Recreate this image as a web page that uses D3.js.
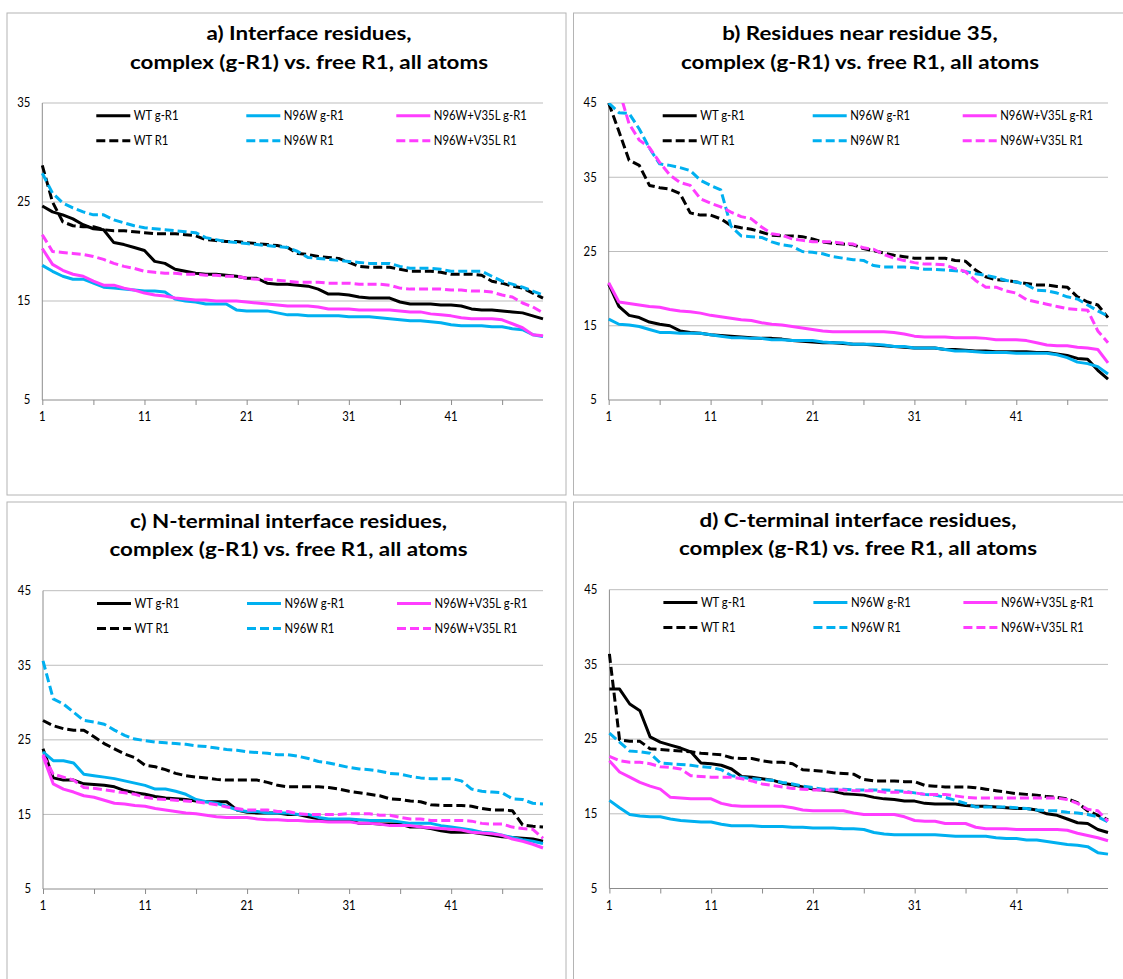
<!DOCTYPE html>
<html>
<head>
<meta charset="utf-8">
<script src="https://cdn.jsdelivr.net/npm/d3@7"></script>
<style>
  body { margin: 0; background: #fff; }
  svg { display: block; }
  text { font-family: Lato, "Open Sans", "DejaVu Sans", sans-serif; fill: #000; }
</style>
</head>
<body>
<svg id="chart" width="1123" height="979"></svg>
<script>
// residue rank on the category axis
const residues = d3.range(1, 51);
const xTickLabels = [1, 11, 21, 31, 41];
const xTickMarks = [1, 6, 11, 16, 21, 26, 31, 36, 41, 46];
const seriesNames = ['WT g-R1', 'N96W g-R1', 'N96W+V35L g-R1', 'WT R1', 'N96W R1', 'N96W+V35L R1'];
const seriesColors = ['#000000', '#00b0f0', '#ff3dff', '#000000', '#00b0f0', '#ff3dff'];
const seriesDashed = [false, false, false, true, true, true];

// a) interface residues
const aWtG = [24.6,24.0,23.7,23.3,22.7,22.3,22.2,20.9,20.7,20.4, 20.1,19.0,18.8,18.2,18.0,17.8,17.7,17.7,17.6,17.5, 17.3,17.3,16.8,16.7,16.7,16.6,16.5,16.2,15.7,15.7, 15.6,15.4,15.3,15.3,15.3,14.9,14.7,14.7,14.7,14.6, 14.6,14.5,14.2,14.1,14.1,14.0,13.9,13.8,13.5,13.2];
const aN96G = [18.6,18.0,17.5,17.2,17.2,16.8,16.4,16.3,16.2,16.1, 16.0,16.0,15.9,15.2,15.0,14.9,14.7,14.7,14.7,14.1, 14.0,14.0,14.0,13.8,13.6,13.6,13.5,13.5,13.5,13.5, 13.4,13.4,13.4,13.3,13.2,13.1,13.0,13.0,12.9,12.8, 12.6,12.5,12.5,12.5,12.4,12.4,12.2,12.1,11.6,11.4];
const aDblG = [20.3,18.7,18.1,17.7,17.5,17.0,16.6,16.6,16.3,16.1, 15.8,15.6,15.5,15.3,15.2,15.1,15.1,15.0,15.0,15.0, 14.9,14.8,14.7,14.6,14.5,14.5,14.5,14.4,14.2,14.2, 14.2,14.1,14.1,14.1,14.1,14.0,13.9,13.9,13.7,13.6, 13.5,13.3,13.2,13.2,13.2,13.1,12.7,12.3,11.6,11.5];
const aWtR = [28.7,25.0,23.0,22.6,22.5,22.5,22.2,22.1,22.1,22.0, 21.9,21.8,21.8,21.8,21.7,21.6,21.2,21.1,21.0,21.0, 20.9,20.8,20.7,20.6,20.4,19.8,19.7,19.5,19.4,19.3, 18.9,18.5,18.4,18.4,18.4,18.2,18.0,18.0,18.0,17.9, 17.7,17.7,17.7,17.6,17.0,16.8,16.5,16.3,15.8,15.3];
const aN96R = [27.9,25.9,24.9,24.4,24.0,23.7,23.7,23.2,22.9,22.6, 22.4,22.3,22.2,22.1,22.0,21.9,21.4,21.2,21.0,20.9, 20.8,20.7,20.6,20.5,20.4,20.0,19.4,19.3,19.2,19.1, 19.0,18.9,18.8,18.8,18.8,18.5,18.3,18.3,18.3,18.2, 18.0,18.0,18.0,18.0,17.5,17.0,16.7,16.4,16.0,15.6];
const aDblR = [21.7,20.0,19.9,19.8,19.7,19.5,19.2,18.8,18.5,18.3, 18.0,17.9,17.8,17.8,17.7,17.7,17.6,17.6,17.5,17.5, 17.3,17.2,17.2,17.1,17.0,16.9,16.9,16.9,16.8,16.8, 16.8,16.7,16.7,16.7,16.6,16.3,16.2,16.2,16.2,16.2, 16.1,16.1,16.0,16.0,15.9,15.6,15.4,14.8,14.4,13.8];

// b) residues near residue 35
const bWtG = [20.6,17.6,16.4,16.1,15.5,15.2,15.0,14.3,14.1,14.0, 13.8,13.7,13.6,13.5,13.4,13.3,13.3,13.2,13.0,12.9, 12.8,12.7,12.7,12.6,12.5,12.5,12.4,12.3,12.2,12.1, 12.0,12.0,12.0,11.8,11.8,11.7,11.6,11.6,11.5,11.5, 11.5,11.5,11.4,11.4,11.2,11.0,10.6,10.5,9.0,7.8];
const bN96G = [15.9,15.2,15.1,14.9,14.5,14.1,14.1,14.0,14.0,14.0, 13.8,13.6,13.4,13.4,13.3,13.3,13.1,13.1,13.0,13.0, 13.0,12.8,12.7,12.7,12.5,12.5,12.5,12.4,12.2,12.2, 12.0,12.0,12.0,11.8,11.6,11.6,11.5,11.4,11.4,11.4, 11.3,11.3,11.3,11.3,11.1,10.7,10.1,9.9,9.5,8.5];
const bDblG = [20.8,18.2,18.0,17.8,17.6,17.5,17.2,17.0,16.9,16.7, 16.4,16.2,16.0,15.8,15.7,15.4,15.2,15.1,14.9,14.7, 14.5,14.3,14.2,14.2,14.2,14.2,14.2,14.2,14.1,13.9, 13.6,13.5,13.5,13.5,13.4,13.4,13.4,13.3,13.1,13.1, 13.1,13.0,12.7,12.4,12.3,12.3,12.1,12.0,11.8,10.0];
const bWtR = [45.0,41.2,37.3,36.6,33.9,33.6,33.4,32.8,30.2,29.9, 29.9,29.4,28.5,28.2,28.0,27.6,27.2,27.1,27.1,27.0, 26.7,26.3,26.1,26.0,25.9,25.4,25.1,24.8,24.5,24.3, 24.1,24.1,24.1,24.1,23.8,23.7,22.5,21.6,21.2,21.1, 20.9,20.7,20.5,20.5,20.3,20.2,18.9,18.2,17.8,16.1];
const bN96R = [45.0,43.7,43.6,41.5,38.9,36.8,36.6,36.3,35.9,34.6, 33.9,33.3,28.4,27.1,27.0,26.9,26.3,25.9,25.7,25.0, 24.9,24.7,24.3,24.1,23.9,23.8,23.1,22.9,22.9,22.9, 22.8,22.6,22.6,22.5,22.4,22.3,22.0,21.8,21.5,21.1, 20.9,20.5,19.8,19.7,19.4,18.9,18.6,17.8,17.0,16.3];
const bDblR = [50.0,46.8,42.2,40.0,39.0,37.0,35.3,34.3,33.9,32.1, 31.5,31.0,30.3,29.7,29.4,28.3,27.4,27.2,26.7,26.5, 26.3,26.3,26.3,26.1,26.0,25.5,25.3,24.6,24.1,23.8, 23.5,23.3,23.3,23.2,22.7,22.3,21.1,20.2,20.2,19.7, 19.4,18.5,18.2,17.9,17.6,17.3,17.2,17.1,14.3,12.7];

// c) N-terminal interface residues
const cWtG = [23.8,19.9,19.6,19.6,19.1,19.0,18.9,18.7,18.2,17.9, 17.7,17.4,17.2,17.1,17.0,16.8,16.7,16.7,16.7,15.6, 15.3,15.2,15.2,15.2,15.0,15.0,14.7,14.4,14.2,14.2, 14.2,13.8,13.8,13.7,13.7,13.7,13.3,13.3,13.1,12.8, 12.6,12.6,12.6,12.4,12.2,12.0,11.9,11.8,11.7,11.4];
const cN96G = [23.4,22.2,22.2,21.9,20.4,20.2,20.0,19.8,19.5,19.2, 18.9,18.4,18.4,18.1,17.7,17.0,16.7,16.5,16.1,15.6, 15.4,15.4,15.2,15.2,15.2,15.0,15.0,14.6,14.4,14.4, 14.4,14.3,14.2,14.2,14.2,14.0,13.8,13.8,13.8,13.5, 13.3,13.1,12.9,12.6,12.5,12.2,11.9,11.6,11.4,11.1];
const cDblG = [22.8,19.1,18.4,18.0,17.5,17.3,16.9,16.5,16.4,16.2, 16.1,15.8,15.6,15.4,15.2,15.1,14.9,14.7,14.6,14.6, 14.6,14.4,14.3,14.3,14.2,14.2,14.1,14.1,14.0,14.0, 14.0,13.8,13.8,13.7,13.5,13.5,13.5,13.3,13.2,13.1, 13.0,12.9,12.6,12.5,12.4,12.2,11.7,11.4,11.0,10.5];
const cWtR = [27.6,26.9,26.5,26.3,26.3,25.4,24.5,23.8,23.1,22.6, 21.6,21.4,21.0,20.5,20.2,20.0,19.9,19.7,19.6,19.6, 19.6,19.6,19.3,18.9,18.7,18.7,18.7,18.7,18.6,18.4, 18.1,17.9,17.7,17.5,17.1,17.0,16.8,16.7,16.3,16.2, 16.2,16.2,16.1,15.8,15.6,15.6,15.5,13.6,13.4,13.3];
const cN96R = [35.6,30.5,29.8,28.7,27.6,27.4,27.1,26.3,25.6,25.1, 24.9,24.7,24.6,24.5,24.4,24.2,24.1,23.9,23.7,23.6, 23.4,23.3,23.2,23.0,23.0,22.8,22.5,22.1,21.9,21.6, 21.3,21.1,21.0,20.8,20.5,20.4,20.1,19.9,19.8,19.8, 19.8,19.5,18.4,18.1,18.0,17.9,17.1,17.0,16.5,16.4];
const cDblR = [23.0,20.4,20.0,19.6,18.6,18.5,18.3,18.1,17.9,17.7, 17.3,17.1,17.0,16.9,16.8,16.7,16.5,16.3,16.0,15.8, 15.6,15.6,15.6,15.4,15.4,15.1,15.0,15.0,15.0,15.0, 15.1,15.1,15.1,14.9,14.9,14.6,14.4,14.4,14.2,14.2, 14.2,14.2,14.1,13.8,13.7,13.7,13.3,13.1,13.0,11.8];

// d) C-terminal interface residues
const dWtG = [31.7,31.7,29.7,28.8,25.3,24.6,24.2,23.8,23.3,21.8, 21.7,21.5,21.0,20.0,19.9,19.7,19.5,19.1,18.9,18.6, 18.3,18.2,18.0,17.7,17.6,17.5,17.2,17.0,16.9,16.7, 16.7,16.4,16.3,16.3,16.3,16.1,16.0,16.0,15.9,15.8, 15.7,15.7,15.5,15.0,14.8,14.3,13.8,13.7,12.9,12.5];
const dN96G = [16.8,15.8,14.9,14.7,14.6,14.6,14.3,14.1,14.0,13.9, 13.9,13.6,13.4,13.4,13.4,13.3,13.3,13.3,13.2,13.2, 13.1,13.1,13.1,13.0,13.0,12.9,12.5,12.3,12.2,12.2, 12.2,12.2,12.2,12.1,12.0,12.0,12.0,12.0,11.8,11.7, 11.7,11.5,11.5,11.3,11.1,10.9,10.8,10.6,9.8,9.6];
const dDblG = [22.1,20.6,19.9,19.2,18.7,18.3,17.2,17.1,17.0,17.0, 17.0,16.4,16.1,16.0,16.0,16.0,16.0,16.0,15.8,15.5, 15.4,15.4,15.4,15.4,15.1,14.9,14.9,14.9,14.9,14.6, 14.1,14.0,14.0,13.7,13.7,13.7,13.2,13.0,13.0,13.0, 12.9,12.9,12.9,12.9,12.9,12.8,12.4,12.1,11.8,11.4];
const dWtR = [36.4,24.9,24.7,24.7,23.7,23.6,23.5,23.4,23.3,23.1, 23.0,22.9,22.5,22.4,22.4,22.1,21.9,21.9,21.7,20.9, 20.8,20.7,20.5,20.4,20.3,19.6,19.4,19.4,19.4,19.3, 19.3,18.8,18.7,18.6,18.6,18.6,18.5,18.3,18.1,17.9, 17.7,17.6,17.5,17.3,17.2,17.0,16.5,15.4,14.8,14.2];
const dN96R = [25.8,24.6,23.4,23.3,23.1,21.8,21.7,21.6,21.5,21.3, 21.2,20.9,20.1,19.9,19.7,19.6,19.5,19.2,19.0,18.7, 18.5,18.3,18.3,18.3,18.2,18.2,18.2,18.2,18.1,18.0, 17.8,17.6,17.5,17.2,16.8,16.4,15.9,15.9,15.9,15.9, 15.8,15.7,15.5,15.4,15.4,15.2,15.1,14.9,14.6,13.9];
const dDblR = [22.7,22.1,21.9,21.9,21.7,21.3,21.2,21.0,20.1,20.0, 19.9,19.9,19.9,19.7,19.4,19.0,18.8,18.6,18.4,18.3, 18.2,18.2,18.2,18.2,18.1,18.1,18.1,17.9,17.9,17.9, 17.8,17.6,17.6,17.6,17.4,17.2,17.1,17.1,17.1,17.1, 17.1,17.1,17.1,17.1,17.1,16.9,16.4,15.6,15.4,14.0];

const panels = [
  { key: 'a', title: ['a) Interface residues,', 'complex (g-R1) vs. free R1, all atoms'],
    yTicks: [5, 15, 25, 35], series: [aWtG, aN96G, aDblG, aWtR, aN96R, aDblR],
    box: { x: 7, y: 13, w: 559, h: 482 }, plot: { l: 42.3, r: 543, t: 103, b: 400 },
    titleX: 309, titleY: [33, 62] },
  { key: 'b', title: ['b) Residues near residue 35,', 'complex (g-R1) vs. free R1, all atoms'],
    yTicks: [5, 15, 25, 35, 45], series: [bWtG, bN96G, bDblG, bWtR, bN96R, bDblR],
    box: { x: 573.5, y: 13, w: 600, h: 482 }, plot: { l: 608.7, r: 1108, t: 103, b: 400 },
    titleX: 860, titleY: [33, 62] },
  { key: 'c', title: ['c) N-terminal interface residues,', 'complex (g-R1) vs. free R1, all atoms'],
    yTicks: [5, 15, 25, 35, 45], series: [cWtG, cN96G, cDblG, cWtR, cN96R, cDblR],
    box: { x: 7, y: 502, w: 559, h: 600 }, plot: { l: 43, r: 543, t: 590.7, b: 889 },
    titleX: 288.5, titleY: [520.7, 549] },
  { key: 'd', title: ['d) C-terminal interface residues,', 'complex (g-R1) vs. free R1, all atoms'],
    yTicks: [5, 15, 25, 35, 45], series: [dWtG, dN96G, dDblG, dWtR, dN96R, dDblR],
    box: { x: 573.5, y: 502, w: 600, h: 600 }, plot: { l: 609.4, r: 1108, t: 589.7, b: 888.5 },
    titleX: 858, titleY: [519.7, 548] }
];

const svg = d3.select('#chart');
svg.append('rect').attr('width', 1123).attr('height', 979).attr('fill', '#fff');
const defs = svg.append('defs');

// Lato is wider than the Calibri of the original, so texts are squeezed
// horizontally to the measured widths.
function measure(str, size, weight) {
  const t = svg.append('text').attr('font-size', size).attr('font-weight', weight || null).text(str);
  const w = t.node().getComputedTextLength();
  t.remove();
  return w;
}
const titleSize = 19.5;
const titleSqueeze = 358 / measure('complex (g-R1) vs. free R1, all atoms', titleSize, 'bold');
const smallSize = 12.5;
const smallSqueeze = Math.min(1, 93 / measure('N96W+V35L g-R1', smallSize));

function squeezed(sel, factor) {
  sel.each(function () {
    const w = this.getComputedTextLength();
    d3.select(this).attr('textLength', w * factor).attr('lengthAdjust', 'spacingAndGlyphs');
  });
}

panels.forEach(p => {
  const g = svg.append('g');
  g.append('rect')
    .attr('x', p.box.x).attr('y', p.box.y).attr('width', p.box.w).attr('height', p.box.h)
    .attr('fill', 'none').attr('stroke', '#b4b4b4').attr('stroke-width', 1);

  const x = d3.scaleLinear().domain([1, 50]).range([p.plot.l, p.plot.r]);
  const y = d3.scaleLinear().domain([d3.min(p.yTicks), d3.max(p.yTicks)]).range([p.plot.b, p.plot.t]);

  // gridlines
  g.selectAll('.grid').data(p.yTicks.slice(1)).enter().append('line')
    .attr('x1', p.plot.l).attr('x2', p.plot.r)
    .attr('y1', d => y(d)).attr('y2', d => y(d))
    .attr('stroke', '#bdbdbd').attr('stroke-width', 1);

  // axes
  const xAxis = d3.axisBottom(x).tickValues(xTickMarks).tickSize(5).tickFormat('');
  const xg = g.append('g').attr('transform', `translate(0,${p.plot.b})`).call(xAxis);
  xg.select('.domain').attr('stroke', '#8c8c8c').attr('d', `M${p.plot.l},0H${p.plot.r}`);
  xg.selectAll('.tick line').attr('stroke', '#8c8c8c');
  g.append('line').attr('x1', p.plot.l).attr('x2', p.plot.l)
    .attr('y1', p.plot.t).attr('y2', p.plot.b).attr('stroke', '#8c8c8c');

  const xl = g.selectAll('.xl').data(xTickLabels).enter().append('text')
    .attr('x', d => x(d)).attr('y', p.plot.b + 17).attr('dy', '0.35em')
    .attr('text-anchor', 'middle').attr('font-size', smallSize).text(d => d);
  squeezed(xl, smallSqueeze);
  const yl = g.selectAll('.yl').data(p.yTicks).enter().append('text')
    .attr('x', p.plot.l - 12).attr('y', d => y(d)).attr('dy', '0.35em')
    .attr('text-anchor', 'end').attr('font-size', smallSize).text(d => d);
  squeezed(yl, smallSqueeze);

  // title
  const tt = g.selectAll('.title').data(p.title).enter().append('text')
    .attr('x', p.titleX).attr('y', (d, i) => p.titleY[i]).attr('dy', '0.36em')
    .attr('text-anchor', 'middle').attr('font-weight', 'bold').attr('font-size', titleSize)
    .text(d => d);
  squeezed(tt, titleSqueeze);

  // series
  const clipId = 'clip-' + p.key;
  defs.append('clipPath').attr('id', clipId).append('rect')
    .attr('x', p.plot.l - 2).attr('y', p.plot.t).attr('width', p.plot.r - p.plot.l + 4)
    .attr('height', p.plot.b - p.plot.t);
  const line = d3.line().x((d, i) => x(residues[i])).y(d => y(d));
  const lg = g.append('g').attr('clip-path', `url(#${clipId})`);
  p.series.forEach((s, k) => {
    lg.append('path').datum(s).attr('d', line)
      .attr('fill', 'none').attr('stroke', seriesColors[k]).attr('stroke-width', 3)
      .attr('stroke-linejoin', 'round')
      .attr('stroke-dasharray', seriesDashed[k] ? '9,4' : null);
  });

  // legend
  const colOffsets = [54, 204, 354];
  const rowOffsets = [12.7, 37.7];
  seriesNames.forEach((name, k) => {
    const lx = p.plot.l + colOffsets[k % 3];
    const ly = p.plot.t + rowOffsets[Math.floor(k / 3)];
    g.append('line').attr('x1', lx).attr('x2', lx + 34).attr('y1', ly).attr('y2', ly)
      .attr('stroke', seriesColors[k]).attr('stroke-width', 3)
      .attr('stroke-dasharray', seriesDashed[k] ? '9,4' : null);
    const lt = g.append('text').attr('x', lx + 37.5).attr('y', ly).attr('dy', '0.35em')
      .attr('font-size', smallSize).text(name);
    squeezed(lt, smallSqueeze);
  });
});
</script>
</body>
</html>
